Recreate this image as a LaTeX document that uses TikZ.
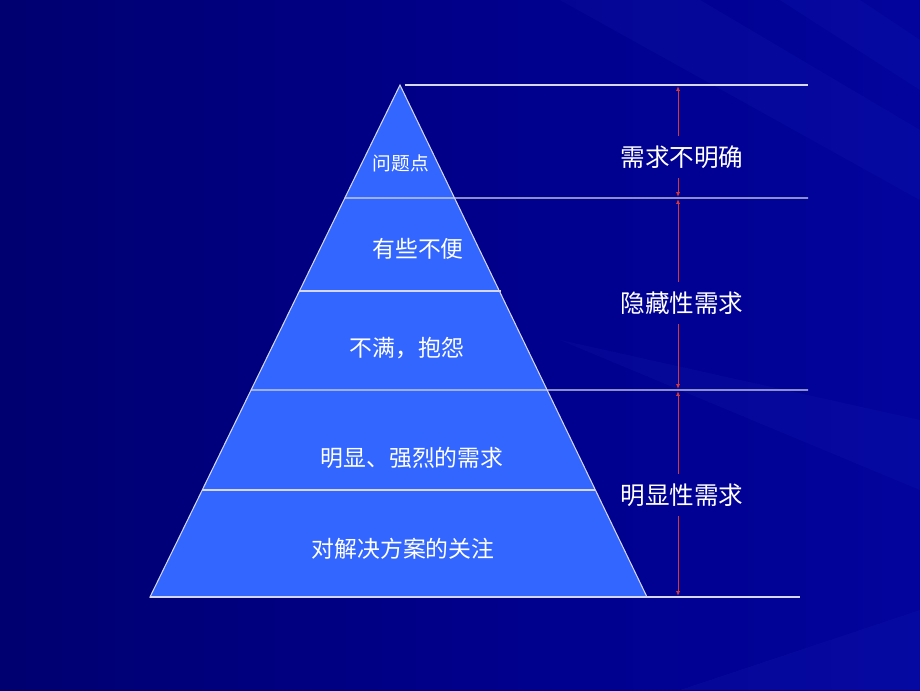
\documentclass[tikz,border=0pt]{standalone}
\usepackage{fontspec}
\newfontfamily\cjk{Noto Sans CJK SC}
\usepackage{tikz}
\usetikzlibrary{arrows.meta,calc,positioning}
\definecolor{slidebg}{RGB}{0,0,138}
\definecolor{slidedark}{RGB}{0,0,112}
\definecolor{slidelight}{RGB}{2,4,156}
\definecolor{streak}{RGB}{90,110,255}
\definecolor{layerblue}{RGB}{51,102,255}
\definecolor{rulegray}{RGB}{215,215,235}
\definecolor{markred}{RGB}{215,55,55}
\tikzstyle{layertext} = [text=white, font=\cjk\fontsize{19.5}{22}\selectfont, inner sep=0pt]
\tikzstyle{sidetext} = [text=white, font=\cjk\fontsize{21}{24}\selectfont, inner xsep=0pt, inner ysep=8pt]
\tikzstyle{rule} = [draw, color=rulegray, line width=0.9pt]
\tikzstyle{measure} = [draw, color=markred, line width=0.8pt, -{Latex[length=4pt,width=3.5pt]}]
\tikzstyle{glow} = [fill=streak, opacity=0.05]

\begin{document}
\begin{tikzpicture}[x=0.03cm,y=-0.03cm]
% background
\shade[left color=slidedark, right color=slidelight, middle color=slidebg] (0,0) rectangle (920,690);
\fill[glow] (560,0) -- (700,0) -- (920,130) -- (920,200) -- cycle;
\fill[glow] (780,0) -- (860,0) -- (920,40) -- (920,90) -- cycle;
\fill[glow] (560,340) -- (920,420) -- (920,490) -- cycle;
\fill[glow] (680,690) -- (920,610) -- (920,690) -- cycle;

% pyramid
\coordinate (apex) at (400,85);
\coordinate (bl) at (150,597);
\coordinate (br) at (647,597);
\coordinate (l1) at ($(apex)!0.2207!(bl)$);
\coordinate (l2) at ($(apex)!0.4023!(bl)$);
\coordinate (r2) at ($(apex)!0.4023!(br)$);
\coordinate (l3) at ($(apex)!0.5957!(bl)$);
\coordinate (l4) at ($(apex)!0.7910!(bl)$);
\coordinate (r4) at ($(apex)!0.7910!(br)$);
\fill[layerblue] (apex) -- (bl) -- (br) -- cycle;
\draw[rule] (apex) -- (bl) -- (br) -- cycle;

% rules
\coordinate (e0) at (808,85);
\coordinate (e1) at (808,198);
\coordinate (e3) at (808,390);
\coordinate (e5) at (800,597);
\draw[rule] ([xshift=4pt]apex) -- (e0);
\draw[rule] (l1) -- (e1);
\draw[rule] (l2) -- ([xshift=1pt]r2);
\draw[rule] (l3) -- (e3);
\draw[rule] (l4) -- (r4);
\draw[rule] (bl) -- (e5);

% layer labels
\node (t1) [layertext, font=\cjk\fontsize{16}{18}\selectfont] at (401,163) {问题点};
\node (t2) [layertext] at (418,249) {有些不便};
\node (t3) [layertext] at (407,348) {不满，抱怨};
\node (t4) [layertext] at (412,458) {明显、强烈的需求};
\node (t5) [layertext] at (403,549) {对解决方案的关注};

% side labels and arrows
\coordinate (m0) at (678,85);
\coordinate (m1) at (678,198);
\coordinate (m3) at (678,390);
\coordinate (m5) at (678,597);
\node (s1) [sidetext] at (682,157) {需求不明确};
\node (s2) [sidetext] at (682,303) {隐藏性需求};
\node (s3) [sidetext] at (682,495) {明显性需求};
\draw[measure] (s1.north -| m0) -- ([yshift=-1pt]m0);
\draw[measure] (s1.south -| m0) -- ([yshift=1pt]m1);
\draw[measure] (s2.north -| m0) -- ([yshift=-1pt]m1);
\draw[measure] (s2.south -| m0) -- ([yshift=1pt]m3);
\draw[measure] (s3.north -| m0) -- ([yshift=-1pt]m3);
\draw[measure] (s3.south -| m0) -- ([yshift=1pt]m5);
\end{tikzpicture}
\end{document}
